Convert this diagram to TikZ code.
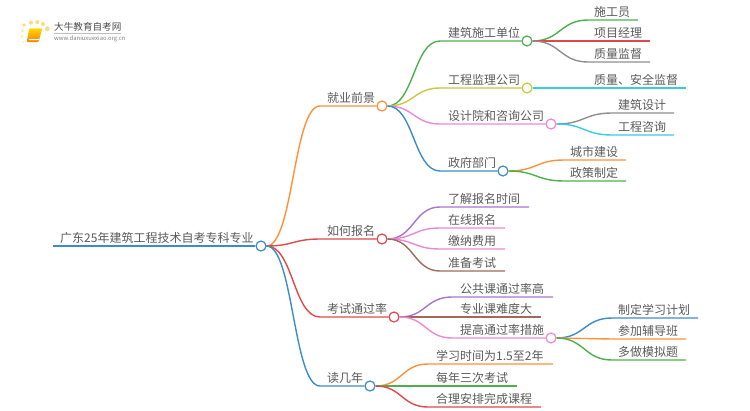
\documentclass[tikz,border=0pt]{standalone}
\usepackage{fontspec}
\setmainfont{Noto Sans CJK SC}
\usetikzlibrary{calc, shapes.geometric}
\definecolor{myorange}{HTML}{FF9138}
\definecolor{mygreen}{HTML}{4CB04C}
\definecolor{myolive}{HTML}{C9C83E}
\definecolor{mypink}{HTML}{EE88D4}
\definecolor{myblue}{HTML}{3C8CC8}
\definecolor{myred}{HTML}{E0484C}
\definecolor{mypurple}{HTML}{A874D0}
\definecolor{mybrown}{HTML}{A0695C}
\definecolor{mycyan}{HTML}{38CCE0}
\definecolor{mygray}{HTML}{8F8F8F}
\definecolor{mytext}{HTML}{5A5A5A}
\definecolor{mydot}{HTML}{FFD97E}
\newcommand{\twig}[3]{\draw[twigline,#1] (#2) .. controls ($(#2)!.5!(#3 |- #2)$) and ($(#3)!.5!(#2 |- #3)$) .. (#3)}
\tikzset{
	twigline/.style={
			line width=1.4pt
		},
	hubnode/.style={
			circle,
			line width=1.2pt,
			fill=white,
			minimum size=10pt,
			inner sep=0pt
		},
	topicnode/.style={
			anchor=west,
			inner sep=0pt,
			text=mytext,
			font=\fontsize{12}{14}\selectfont
		}
}

\begin{document}
\begin{tikzpicture}[x=1pt,y=-1pt]
  \useasboundingbox (0,0) rectangle (750,410);

  % logo
  \fill[mydot] (24,25) circle (1.8);
  \fill[mydot] (31,22.7) circle (2);
  \fill[mydot] (37.3,22) circle (2);
  \fill[mydot] (43,24) circle (2);
  \fill[mydot] (47.3,28.7) circle (2.4);
  \fill[mydot!70] (22.3,30.7) circle (1.5);
  \fill[mydot!60] (21.7,36.7) circle (1.3);
  \fill[mydot!40] (23.3,42.3) circle (1.2);
  \shade[top color=yellow!70!orange, bottom color=orange, rounded corners=1pt] (29.3,28.3) -- (42.3,28.3) -- (38.6,42) -- (26.7,42) -- cycle;
  \fill[white] (29.2,39) -- (39,39) -- (38.7,40.2) -- (28.8,40.2) -- cycle;
  \node[inner sep=0pt, anchor=west, text=black!70, font=\fontsize{9.6}{11}\selectfont] (logoname) at (54,27) {大牛教育自考网};
  \node[inner sep=0pt, anchor=west, text=black!50, font=\fontsize{5.9}{7}\selectfont] (logourl) at (54,38.5) {www.daniuxuexiao.org.cn};
  \draw[black!25, line width=0.5pt] (54,33) -- (121,33);

  % root
  \coordinate (s0) at (53,246);
  \node[hubnode, draw=myblue] (c0) at (261,246) {};
  \node[topicnode] (t0) at (60,238) {广东25年建筑工程技术自考专科专业};
  \draw[twigline,myblue,line width=2pt] (s0) -- (c0.west);

  % first level
  \node[hubnode, draw=myorange] (c1) at (382,106) {};
  \node[hubnode, draw=myred] (c2) at (382,239) {};
  \node[hubnode, draw=myred] (c3) at (394,317) {};
  \node[hubnode, draw=myblue] (c4) at (370,386) {};
  \coordinate (s1) at (320,106);
  \coordinate (s2) at (320,239);
  \coordinate (s3) at (320,317);
  \coordinate (s4) at (320,386);
  \node[topicnode] (t1) at (327,98) {就业前景};
  \node[topicnode] (t2) at (327,231) {如何报名};
  \node[topicnode] (t3) at (327,309) {考试通过率};
  \node[topicnode] (t4) at (327,378) {读几年};
  \twig{myorange}{c0.east}{s1} -- (c1.west);
  \twig{myred}{c0.east}{s2} -- (c2.west);
  \twig{myred}{c0.east}{s3} -- (c3.west);
  \twig{myblue}{c0.east}{s4} -- (c4.west);

  % jobs
  \node[hubnode, draw=mygreen] (c11) at (527,41) {};
  \node[hubnode, draw=myolive] (c12) at (527,88) {};
  \node[hubnode, draw=mypink] (c13) at (551,124) {};
  \node[hubnode, draw=myblue] (c14) at (503,171) {};
  \coordinate (s11) at (440,41);
  \coordinate (s12) at (440,88);
  \coordinate (s13) at (440,124);
  \coordinate (s14) at (440,171);
  \node[topicnode] (t11) at (448,33) {建筑施工单位};
  \node[topicnode] (t12) at (448,80) {工程监理公司};
  \node[topicnode] (t13) at (448,116) {设计院和咨询公司};
  \node[topicnode] (t14) at (448,163) {政府部门};
  \twig{mygreen}{c1.east}{s11} -- (c11.west);
  \twig{myolive}{c1.east}{s12} -- (c12.west);
  \twig{mypink}{c1.east}{s13} -- (c13.west);
  \twig{myblue}{c1.east}{s14} -- (c14.west);

  \coordinate (s111) at (588,20);
  \coordinate (s112) at (588,41);
  \coordinate (s113) at (588,62);
  \coordinate (s121) at (588,88);
  \coordinate (e111) at (638,20);
  \coordinate (e112) at (650,41);
  \coordinate (e113) at (650,62);
  \coordinate (e121) at (686,88);
  \node[topicnode] (t111) at (594,12) {施工员};
  \node[topicnode] (t112) at (594,33) {项目经理};
  \node[topicnode] (t113) at (594,54) {质量监督};
  \node[topicnode] (t121) at (594,80) {质量、安全监督};
  \twig{mygreen}{c11.east}{s111} -- (e111);
  \twig{myred}{c11.east}{s112} -- (e112);
  \twig{mygray}{c11.east}{s113} -- (e113);
  \twig{mycyan}{c12.east}{s121} -- (e121);

  \coordinate (s131) at (612,113);
  \coordinate (s132) at (612,135);
  \coordinate (s141) at (564,160);
  \coordinate (s142) at (564,181);
  \coordinate (e131) at (674,113);
  \coordinate (e132) at (674,135);
  \coordinate (e141) at (626,160);
  \coordinate (e142) at (626,181);
  \node[topicnode] (t131) at (618,105) {建筑设计};
  \node[topicnode] (t132) at (618,127) {工程咨询};
  \node[topicnode] (t141) at (570,152) {城市建设};
  \node[topicnode] (t142) at (570,173) {政策制定};
  \twig{mygray}{c13.east}{s131} -- (e131);
  \twig{mycyan}{c13.east}{s132} -- (e132);
  \twig{myorange}{c14.east}{s141} -- (e141);
  \twig{mygreen}{c14.east}{s142} -- (e142);

  % signing up
  \coordinate (s21) at (440,207);
  \coordinate (s22) at (440,228);
  \coordinate (s23) at (440,249);
  \coordinate (s24) at (440,271);
  \coordinate (e21) at (529,207);
  \coordinate (e22) at (505,228);
  \coordinate (e23) at (505,249);
  \coordinate (e24) at (505,271);
  \node[topicnode] (t21) at (448,199) {了解报名时间};
  \node[topicnode] (t22) at (448,220) {在线报名};
  \node[topicnode] (t23) at (448,241) {缴纳费用};
  \node[topicnode] (t24) at (448,263) {准备考试};
  \twig{mypurple}{c2.east}{s21} -- (e21);
  \twig{mypink}{c2.east}{s22} -- (e22);
  \twig{mypink}{c2.east}{s23} -- (e23);
  \twig{mybrown}{c2.east}{s24} -- (e24);

  % pass rate
  \node[hubnode, draw=mypink] (c33) at (551,338) {};
  \coordinate (s31) at (452,297);
  \coordinate (s32) at (452,317);
  \coordinate (s33) at (452,338);
  \coordinate (e31) at (553,297);
  \coordinate (e32) at (541,317);
  \node[topicnode] (t31) at (460,289) {公共课通过率高};
  \node[topicnode] (t32) at (460,309) {专业课难度大};
  \node[topicnode] (t33) at (460,330) {提高通过率措施};
  \twig{mypurple}{c3.east}{s31} -- (e31);
  \twig{mybrown}{c3.east}{s32} -- (e32);
  \twig{mypink}{c3.east}{s33} -- (c33.west);

  \coordinate (s331) at (612,318);
  \coordinate (s332) at (612,339);
  \coordinate (s333) at (612,360);
  \coordinate (e331) at (698,318);
  \coordinate (e332) at (686,339);
  \coordinate (e333) at (686,360);
  \node[topicnode] (t331) at (618,310) {制定学习计划};
  \node[topicnode] (t332) at (618,331) {参加辅导班};
  \node[topicnode] (t333) at (618,352) {多做模拟题};
  \twig{myblue}{c33.east}{s331} -- (e331);
  \twig{myorange}{c33.east}{s332} -- (e332);
  \twig{mygreen}{c33.east}{s333} -- (e333);

  % years
  \coordinate (s41) at (428,364);
  \coordinate (s42) at (428,386);
  \coordinate (s43) at (428,407);
  \coordinate (e41) at (553,364);
  \coordinate (e42) at (517,386);
  \coordinate (e43) at (541,407);
  \node[topicnode] (t41) at (436,356) {学习时间为1.5至2年};
  \node[topicnode] (t42) at (436,378) {每年三次考试};
  \node[topicnode] (t43) at (436,399) {合理安排完成课程};
  \twig{myorange}{c4.east}{s41} -- (e41);
  \twig{mygreen}{c4.east}{s42} -- (e42);
  \twig{myred}{c4.east}{s43} -- (e43);

\end{tikzpicture}
\end{document}
